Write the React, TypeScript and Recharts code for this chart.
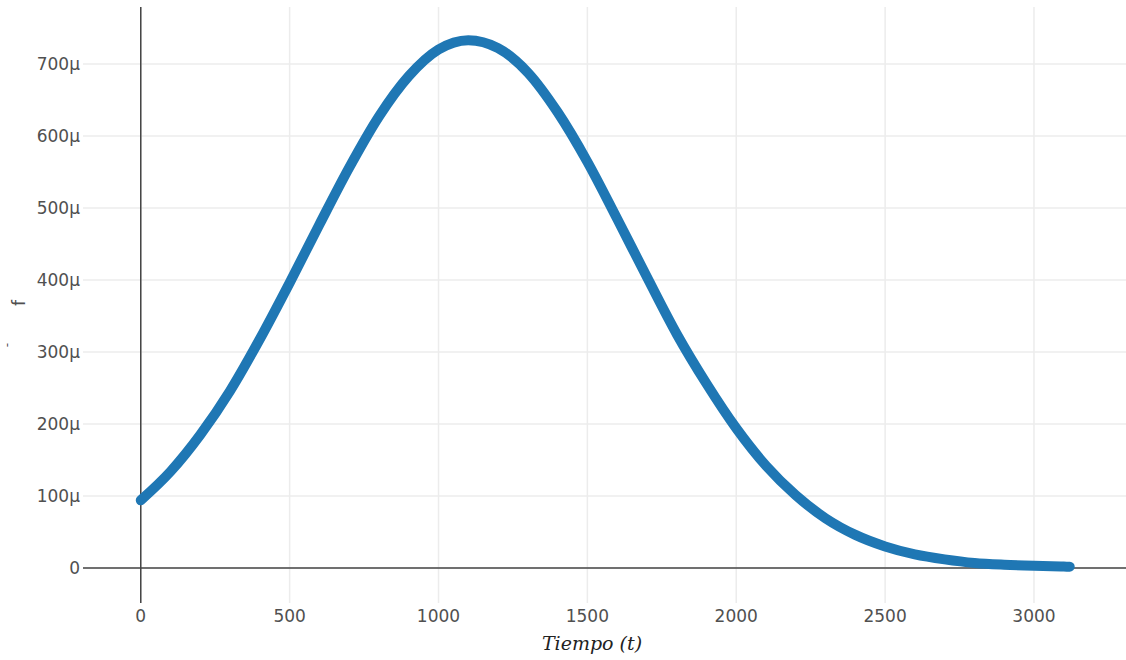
import React from "react";
import {
  LineChart,
  Line,
  XAxis,
  YAxis,
  CartesianGrid,
  ReferenceLine,
  Label,
} from "recharts";

// time values (t) and f values in micro-units
const tiempo = [
  0, 100, 200, 300, 400, 500, 600, 700, 800, 900, 1000, 1100, 1200, 1300,
  1400, 1500, 1600, 1700, 1800, 1900, 2000, 2100, 2200, 2300, 2400, 2500,
  2600, 2700, 2800, 2900, 3000, 3100, 3120,
];
const fMicro = [
  94, 134, 185, 246, 318, 396, 477, 556, 627, 683, 720, 733, 722, 688, 633,
  564, 485, 404, 325, 256, 194, 142, 101, 69, 46, 30, 19, 12, 7, 4.5, 3, 2,
  1.8,
];
const xTicks = [0, 500, 1000, 1500, 2000, 2500, 3000];
const yTicks = [0, 100, 200, 300, 400, 500, 600, 700];

const data = tiempo.map((t, i) => ({ t, f: fMicro[i] }));

const tickFont = "'DejaVu Sans', Verdana, sans-serif";
const tickColor = "#505050";

const XTick = (props: any) => {
  const { x, payload } = props;
  return (
    <text x={x} y={622} textAnchor="middle" fill={tickColor} fontSize={17} fontFamily={tickFont}>
      {payload.value}
    </text>
  );
};

const YTick = (props: any) => {
  const { y, payload } = props;
  const v = payload.value;
  return (
    <text x={80} y={y + 6} textAnchor="end" fill={tickColor} fontSize={17} fontFamily={tickFont}>
      {v === 0 ? "0" : `${v}μ`}
    </text>
  );
};

export default function App() {
  return (
    <div style={{ width: 1126, height: 660, background: "#fff" }}>
      <style>{`body{margin:0}`}</style>
      <LineChart
        width={1126}
        height={660}
        data={data}
        margin={{ top: 7, right: 0, bottom: 0, left: 0 }}
      >
        <CartesianGrid
          stroke="#ececec"
          strokeWidth={1.5}
          horizontalValues={yTicks}
          verticalValues={xTicks}
        />
        <XAxis
          dataKey="t"
          type="number"
          domain={[-194, 3309]}
          ticks={xTicks}
          tick={<XTick />}
          tickLine={false}
          axisLine={false}
          height={57}
          allowDataOverflow
        >
          <Label
            content={() => (
              <text
                x={592}
                y={650}
                textAnchor="middle"
                fill="#222"
                fontSize={19}
                fontStyle="italic"
                fontFamily="'DejaVu Serif', 'Liberation Serif', serif"
              >
                Tiempo (t)
              </text>
            )}
          />
        </XAxis>
        <YAxis
          type="number"
          domain={[-48.6, 779]}
          ticks={yTicks}
          tick={<YTick />}
          tickLine={false}
          axisLine={false}
          width={83}
          allowDataOverflow
        >
          <Label
            content={() => (
              <g fill={tickColor} fontFamily={tickFont}>
                <text x={25} y={303} textAnchor="middle" fontSize={17} transform="rotate(-90 25 303)">
                  f
                </text>
                <text x={11} y={345} textAnchor="middle" fontSize={12} transform="rotate(-90 11 345)">
                  -
                </text>
              </g>
            )}
          />
        </YAxis>
        <ReferenceLine x={0} stroke="#444" strokeWidth={1.5} />
        <ReferenceLine y={0} stroke="#444" strokeWidth={1.5} />
        <Line
          type="monotone"
          dataKey="f"
          stroke="#1f77b4"
          strokeWidth={10}
          strokeLinecap="round"
          strokeLinejoin="round"
          dot={false}
          activeDot={false}
          isAnimationActive={false}
        />
      </LineChart>
    </div>
  );
}
